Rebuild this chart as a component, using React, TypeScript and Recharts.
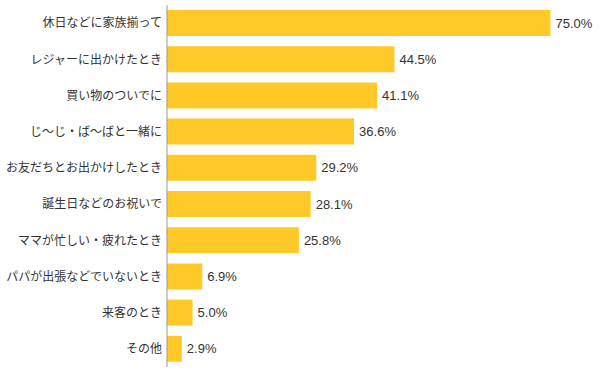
import { Bar, BarChart, LabelList, XAxis, YAxis } from "recharts"

// 回答項目と割合(%)
const categories = [
  "休日などに家族揃って",
  "レジャーに出かけたとき",
  "買い物のついでに",
  "じ～じ・ば～ばと一緒に",
  "お友だちとお出かけしたとき",
  "誕生日などのお祝いで",
  "ママが忙しい・疲れたとき",
  "パパが出張などでいないとき",
  "来客のとき",
  "その他",
]
const values = [75.0, 44.5, 41.1, 36.6, 29.2, 28.1, 25.8, 6.9, 5.0, 2.9]

const data = categories.map((name, i) => ({ name, value: values[i] }))

export default function App() {
  return (
    <div style={{ position: "absolute", left: 0, top: 0, background: "#fff" }}>
      <BarChart
        width={600}
        height={373}
        data={data}
        layout="vertical"
        margin={{ top: 5, right: 24, bottom: 6, left: 0 }}
      >
        <XAxis
          type="number"
          domain={[0, 80]}
          height={0}
          tick={false}
          tickLine={false}
          axisLine={{ stroke: "#c8c8c8", strokeWidth: 2 }}
        />
        <YAxis
          type="category"
          dataKey="name"
          width={167}
          tickLine={false}
          tickSize={0}
          tickMargin={5}
          axisLine={{ stroke: "#999999" }}
          interval={0}
          tick={{ fontSize: 12, fill: "#333333", fontFamily: "'Noto Sans CJK JP', sans-serif" }}
        />
        <Bar dataKey="value" fill="#ffca28" barSize={26} isAnimationActive={false}>
          <LabelList
            dataKey="value"
            position="right"
            offset={5}
            formatter={(v: number) => `${v.toFixed(1)}%`}
            style={{ fontSize: 13, fill: "#333333", fontFamily: "'Liberation Sans', Arial, sans-serif" }}
          />
        </Bar>
      </BarChart>
    </div>
  )
}
